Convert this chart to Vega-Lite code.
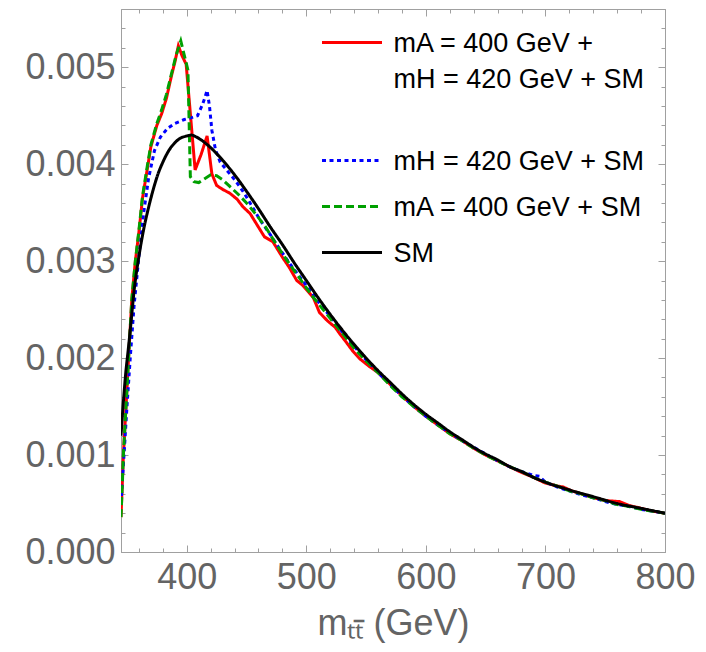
{
  "$schema": "https://vega.github.io/schema/vega-lite/v6.json",
  "width": 544,
  "height": 543,
  "autosize": {"type": "none"},
  "padding": {"left": 121, "top": 9, "right": 41, "bottom": 100},
  "background": "white",
  "config": {
    "view": {"stroke": "#a0a0a0"},
    "font": "Liberation Sans",
    "axis": {
      "grid": false,
      "domainColor": "#a0a0a0",
      "tickColor": "#a0a0a0",
      "labelFont": "Liberation Sans",
      "labelFontSize": 36,
      "labelColor": "#646464",
      "titleFont": "Liberation Sans",
      "titleFontSize": 36,
      "titleColor": "#646464",
      "titleFontWeight": "normal",
      "labelOverlap": false,
      "labelFlush": false,
      "labelBound": false
    }
  },
  "data": {
    "values": [
      {"s":"AH","x":345,"y":0.00036},{"s":"AH","x":347,"y":0.001},{"s":"AH","x":349.5,"y":0.00157},{"s":"AH","x":352,"y":0.00215},{"s":"AH","x":354,"y":0.0026},{"s":"AH","x":357,"y":0.003},{"s":"AH","x":360,"y":0.0033},{"s":"AH","x":363,"y":0.00365},{"s":"AH","x":367,"y":0.00395},{"s":"AH","x":370,"y":0.00418},{"s":"AH","x":375,"y":0.0044},{"s":"AH","x":379,"y":0.00452},{"s":"AH","x":383,"y":0.00468},{"s":"AH","x":387,"y":0.0049},{"s":"AH","x":390,"y":0.00505},{"s":"AH","x":393,"y":0.00522},{"s":"AH","x":396,"y":0.00512},{"s":"AH","x":399.5,"y":0.00503},{"s":"AH","x":407,"y":0.00394},{"s":"AH","x":412,"y":0.0041},{"s":"AH","x":417,"y":0.00429},{"s":"AH","x":421,"y":0.0039},{"s":"AH","x":425,"y":0.00378},{"s":"AH","x":430,"y":0.00374},{"s":"AH","x":436,"y":0.0037},{"s":"AH","x":442,"y":0.00364},{"s":"AH","x":447,"y":0.00356},{"s":"AH","x":453,"y":0.00349},{"s":"AH","x":460,"y":0.00335},{"s":"AH","x":465,"y":0.00325},{"s":"AH","x":472,"y":0.0032},{"s":"AH","x":480,"y":0.00304},{"s":"AH","x":486,"y":0.00293},{"s":"AH","x":492,"y":0.0028},{"s":"AH","x":497,"y":0.00275},{"s":"AH","x":502,"y":0.00268},{"s":"AH","x":506,"y":0.00262},{"s":"AH","x":511,"y":0.00247},{"s":"AH","x":518,"y":0.00238},{"s":"AH","x":524,"y":0.00232},{"s":"AH","x":528,"y":0.00225},{"s":"AH","x":533,"y":0.00217},{"s":"AH","x":539,"y":0.00207},{"s":"AH","x":545,"y":0.00199},{"s":"AH","x":552,"y":0.00192},{"s":"AH","x":560,"y":0.00185},{"s":"AH","x":570,"y":0.00173},{"s":"AH","x":580,"y":0.00161},{"s":"AH","x":590,"y":0.0015},{"s":"AH","x":600,"y":0.0014},{"s":"AH","x":610,"y":0.00131},{"s":"AH","x":620,"y":0.00122},{"s":"AH","x":630,"y":0.00115},{"s":"AH","x":640,"y":0.00107},{"s":"AH","x":650,"y":0.001},{"s":"AH","x":660,"y":0.00094},{"s":"AH","x":670,"y":0.00088},{"s":"AH","x":680,"y":0.00082},{"s":"AH","x":690,"y":0.00077},{"s":"AH","x":700,"y":0.00071},{"s":"AH","x":710,"y":0.00068},{"s":"AH","x":715,"y":0.00067},{"s":"AH","x":722,"y":0.00063},{"s":"AH","x":730,"y":0.0006},{"s":"AH","x":740,"y":0.00056},{"s":"AH","x":750,"y":0.00053},{"s":"AH","x":762,"y":0.00052},{"s":"AH","x":770,"y":0.00048},{"s":"AH","x":780,"y":0.00045},{"s":"AH","x":790,"y":0.00042},{"s":"AH","x":800,"y":0.0004},
      {"s":"H","x":345,"y":0.0005},{"s":"H","x":347,"y":0.0009},{"s":"H","x":350,"y":0.0015},{"s":"H","x":353,"y":0.00205},{"s":"H","x":356,"y":0.00255},{"s":"H","x":360,"y":0.00305},{"s":"H","x":364,"y":0.0035},{"s":"H","x":368,"y":0.00385},{"s":"H","x":373,"y":0.00414},{"s":"H","x":378,"y":0.00428},{"s":"H","x":384,"y":0.00437},{"s":"H","x":390,"y":0.00442},{"s":"H","x":398,"y":0.00446},{"s":"H","x":404,"y":0.00448},{"s":"H","x":409,"y":0.0045},{"s":"H","x":413,"y":0.00461},{"s":"H","x":415,"y":0.00468},{"s":"H","x":417,"y":0.00476},{"s":"H","x":419,"y":0.0046},{"s":"H","x":421,"y":0.00435},{"s":"H","x":424,"y":0.00415},{"s":"H","x":428,"y":0.00402},{"s":"H","x":434,"y":0.00393},{"s":"H","x":440,"y":0.00384},{"s":"H","x":447,"y":0.00372},{"s":"H","x":453,"y":0.0036},{"s":"H","x":461,"y":0.00343},{"s":"H","x":470,"y":0.00327},{"s":"H","x":478,"y":0.00312},{"s":"H","x":487,"y":0.00296},{"s":"H","x":495,"y":0.00283},{"s":"H","x":503,"y":0.0027},{"s":"H","x":510,"y":0.00258},{"s":"H","x":520,"y":0.00243},{"s":"H","x":530,"y":0.00227},{"s":"H","x":540,"y":0.00212},{"s":"H","x":550,"y":0.00198},{"s":"H","x":560,"y":0.00185},{"s":"H","x":570,"y":0.00173},{"s":"H","x":580,"y":0.00161},{"s":"H","x":590,"y":0.0015},{"s":"H","x":600,"y":0.0014},{"s":"H","x":610,"y":0.00131},{"s":"H","x":620,"y":0.00123},{"s":"H","x":630,"y":0.00115},{"s":"H","x":640,"y":0.00108},{"s":"H","x":650,"y":0.00101},{"s":"H","x":660,"y":0.00094},{"s":"H","x":670,"y":0.00088},{"s":"H","x":680,"y":0.00083},{"s":"H","x":690,"y":0.00079},{"s":"H","x":695,"y":0.00078},{"s":"H","x":700,"y":0.00072},{"s":"H","x":710,"y":0.00067},{"s":"H","x":720,"y":0.00063},{"s":"H","x":730,"y":0.00059},{"s":"H","x":740,"y":0.00056},{"s":"H","x":750,"y":0.00052},{"s":"H","x":760,"y":0.00049},{"s":"H","x":770,"y":0.00047},{"s":"H","x":780,"y":0.00044},{"s":"H","x":790,"y":0.00042},{"s":"H","x":800,"y":0.0004},
      {"s":"A","x":345,"y":0.00036},{"s":"A","x":347,"y":0.001},{"s":"A","x":349.5,"y":0.00157},{"s":"A","x":352,"y":0.00215},{"s":"A","x":354,"y":0.0026},{"s":"A","x":357,"y":0.003},{"s":"A","x":360,"y":0.00332},{"s":"A","x":363,"y":0.00367},{"s":"A","x":367,"y":0.00398},{"s":"A","x":370,"y":0.0042},{"s":"A","x":375,"y":0.00442},{"s":"A","x":379,"y":0.00456},{"s":"A","x":383,"y":0.00472},{"s":"A","x":387,"y":0.00492},{"s":"A","x":391,"y":0.00512},{"s":"A","x":395,"y":0.00527},{"s":"A","x":398,"y":0.00512},{"s":"A","x":401,"y":0.00497},{"s":"A","x":403,"y":0.00387},{"s":"A","x":406,"y":0.00382},{"s":"A","x":410,"y":0.00381},{"s":"A","x":415,"y":0.00385},{"s":"A","x":420,"y":0.00389},{"s":"A","x":425,"y":0.00388},{"s":"A","x":430,"y":0.00384},{"s":"A","x":436,"y":0.00377},{"s":"A","x":443,"y":0.00369},{"s":"A","x":450,"y":0.0036},{"s":"A","x":458,"y":0.00348},{"s":"A","x":466,"y":0.00335},{"s":"A","x":474,"y":0.00319},{"s":"A","x":482,"y":0.00304},{"s":"A","x":490,"y":0.0029},{"s":"A","x":498,"y":0.00276},{"s":"A","x":505,"y":0.00264},{"s":"A","x":512,"y":0.00253},{"s":"A","x":520,"y":0.00241},{"s":"A","x":530,"y":0.00226},{"s":"A","x":540,"y":0.0021},{"s":"A","x":550,"y":0.00197},{"s":"A","x":560,"y":0.00185},{"s":"A","x":570,"y":0.00172},{"s":"A","x":580,"y":0.0016},{"s":"A","x":590,"y":0.0015},{"s":"A","x":600,"y":0.0014},{"s":"A","x":610,"y":0.00131},{"s":"A","x":620,"y":0.00122},{"s":"A","x":630,"y":0.00115},{"s":"A","x":640,"y":0.00107},{"s":"A","x":650,"y":0.001},{"s":"A","x":660,"y":0.00094},{"s":"A","x":670,"y":0.00088},{"s":"A","x":680,"y":0.00083},{"s":"A","x":690,"y":0.00077},{"s":"A","x":700,"y":0.00072},{"s":"A","x":710,"y":0.00068},{"s":"A","x":720,"y":0.00063},{"s":"A","x":730,"y":0.0006},{"s":"A","x":740,"y":0.00056},{"s":"A","x":750,"y":0.00053},{"s":"A","x":760,"y":0.00049},{"s":"A","x":770,"y":0.00047},{"s":"A","x":780,"y":0.00044},{"s":"A","x":790,"y":0.00042},{"s":"A","x":800,"y":0.0004},
      {"s":"SM","x":345,"y":0.0012},{"s":"SM","x":347,"y":0.00155},{"s":"SM","x":349,"y":0.00185},{"s":"SM","x":351,"y":0.00208},{"s":"SM","x":353,"y":0.00232},{"s":"SM","x":356,"y":0.0027},{"s":"SM","x":360,"y":0.00305},{"s":"SM","x":364,"y":0.00333},{"s":"SM","x":368,"y":0.00355},{"s":"SM","x":372,"y":0.00374},{"s":"SM","x":376,"y":0.0039},{"s":"SM","x":380,"y":0.00402},{"s":"SM","x":385,"y":0.00414},{"s":"SM","x":390,"y":0.00422},{"s":"SM","x":395,"y":0.00427},{"s":"SM","x":400,"y":0.00429},{"s":"SM","x":404,"y":0.0043},{"s":"SM","x":408,"y":0.00428},{"s":"SM","x":412,"y":0.00425},{"s":"SM","x":420,"y":0.00417},{"s":"SM","x":430,"y":0.00404},{"s":"SM","x":440,"y":0.00389},{"s":"SM","x":450,"y":0.00372},{"s":"SM","x":460,"y":0.00354},{"s":"SM","x":470,"y":0.00335},{"s":"SM","x":480,"y":0.00317},{"s":"SM","x":490,"y":0.00298},{"s":"SM","x":500,"y":0.0028},{"s":"SM","x":510,"y":0.00262},{"s":"SM","x":520,"y":0.00245},{"s":"SM","x":530,"y":0.00229},{"s":"SM","x":540,"y":0.00214},{"s":"SM","x":550,"y":0.002},{"s":"SM","x":560,"y":0.00187},{"s":"SM","x":570,"y":0.00175},{"s":"SM","x":580,"y":0.00163},{"s":"SM","x":590,"y":0.00152},{"s":"SM","x":600,"y":0.00142},{"s":"SM","x":610,"y":0.00133},{"s":"SM","x":620,"y":0.00124},{"s":"SM","x":630,"y":0.00116},{"s":"SM","x":640,"y":0.00108},{"s":"SM","x":650,"y":0.00101},{"s":"SM","x":660,"y":0.00095},{"s":"SM","x":670,"y":0.00088},{"s":"SM","x":680,"y":0.00083},{"s":"SM","x":690,"y":0.00077},{"s":"SM","x":700,"y":0.00072},{"s":"SM","x":720,"y":0.00064},{"s":"SM","x":740,"y":0.00057},{"s":"SM","x":760,"y":0.0005},{"s":"SM","x":780,"y":0.00045},{"s":"SM","x":800,"y":0.0004}
    ]
  },
  "layer": [
    {
      "transform": [{"filter": "datum.s !== 'SM'"}],
      "mark": {"type": "line", "strokeWidth": 3, "clip": true},
      "encoding": {
        "x": {
          "field": "x", "type": "quantitative",
          "scale": {"domain": [345, 800], "nice": false, "zero": false},
          "axis": {
            "orient": "bottom",
            "values": [360,380,400,420,440,460,480,500,520,540,560,580,600,620,640,660,680,700,720,740,760,780,800],
            "tickSize": {"condition": {"test": "datum.value % 100 === 0", "value": -7}, "value": -4},
            "labelExpr": "datum.value % 100 === 0 ? '' + datum.value : ''",
            "labelPadding": 15,
            "title": "m\u209c\u209c\u0304 (GeV)",
            "titlePadding": 8
          }
        },
        "y": {
          "field": "y", "type": "quantitative",
          "scale": {"domain": [0, 0.0056], "nice": false, "zero": true},
          "axis": {
            "orient": "left",
            "values": [0,0.0002,0.0004,0.0006,0.0008,0.001,0.0012,0.0014,0.0016,0.0018,0.002,0.0022,0.0024,0.0026,0.0028,0.003,0.0032,0.0034,0.0036,0.0038,0.004,0.0042,0.0044,0.0046,0.0048,0.005,0.0052,0.0054],
            "tickSize": {"condition": {"test": "abs(datum.value*1000 - round(datum.value*1000)) < 1e-6", "value": -7}, "value": -4},
            "labelExpr": "abs(datum.value*1000 - round(datum.value*1000)) < 1e-6 ? format(datum.value, '.3f') : ''",
            "labelPadding": 13,
            "title": null
          }
        },
        "color": {
          "field": "s", "type": "nominal",
          "scale": {"domain": ["AH", "H", "A", "SM"], "range": ["#ff0000", "#0000ff", "#00a000", "#000000"]},
          "legend": {
            "orient": "none",
            "legendX": 199.5,
            "legendY": 2,
            "title": null,
            "padding": 0,
            "symbolType": "stroke",
            "symbolSize": 3600,
            "symbolStrokeWidth": 3,
            "labelFont": "Liberation Sans",
            "labelFontSize": 27,
            "labelColor": "#000000",
            "labelLimit": 600,
            "labelOffset": 10,
            "labelBaseline": "top",
            "rowPadding": 0,
            "labelExpr": "datum.value === 'AH' ? ['mA = 400 GeV +', 'mH = 420 GeV + SM', ' '] : datum.value === 'H' ? 'mH = 420 GeV + SM' : datum.value === 'A' ? 'mA = 400 GeV + SM' : 'SM'",
            "encode": {"labels": {"update": {"dy": {"value": -12}, "lineHeight": {"value": 36}}}}
          }
        },
        "strokeDash": {
          "field": "s", "type": "nominal",
          "scale": {"domain": ["AH", "H", "A", "SM"], "range": [[1, 0], [4, 3.5], [8, 4], [1, 0]]}
        }
      }
    },
    {
      "transform": [{"filter": "datum.s === 'SM'"}],
      "mark": {"type": "line", "strokeWidth": 3, "interpolate": "monotone", "clip": true},
      "encoding": {
        "x": {
          "field": "x", "type": "quantitative",
          "scale": {"domain": [345, 800], "nice": false, "zero": false},
          "axis": {
            "orient": "top",
            "values": [360,380,400,420,440,460,480,500,520,540,560,580,600,620,640,660,680,700,720,740,760,780,800],
            "tickSize": {"condition": {"test": "datum.value % 100 === 0", "value": -7}, "value": -4},
            "labels": false,
            "title": null
          }
        },
        "y": {
          "field": "y", "type": "quantitative",
          "scale": {"domain": [0, 0.0056], "nice": false, "zero": true},
          "axis": {
            "orient": "right",
            "values": [0,0.0002,0.0004,0.0006,0.0008,0.001,0.0012,0.0014,0.0016,0.0018,0.002,0.0022,0.0024,0.0026,0.0028,0.003,0.0032,0.0034,0.0036,0.0038,0.004,0.0042,0.0044,0.0046,0.0048,0.005,0.0052,0.0054],
            "tickSize": {"condition": {"test": "abs(datum.value*1000 - round(datum.value*1000)) < 1e-6", "value": -7}, "value": -4},
            "labels": false,
            "title": null
          }
        },
        "color": {
          "field": "s", "type": "nominal",
          "scale": {"domain": ["AH", "H", "A", "SM"], "range": ["#ff0000", "#0000ff", "#00a000", "#000000"]}
        },
        "strokeDash": {
          "field": "s", "type": "nominal",
          "scale": {"domain": ["AH", "H", "A", "SM"], "range": [[1, 0], [4, 3.5], [8, 4], [1, 0]]}
        }
      }
    }
  ],
  "resolve": {"axis": {"x": "independent", "y": "independent"}}
}
